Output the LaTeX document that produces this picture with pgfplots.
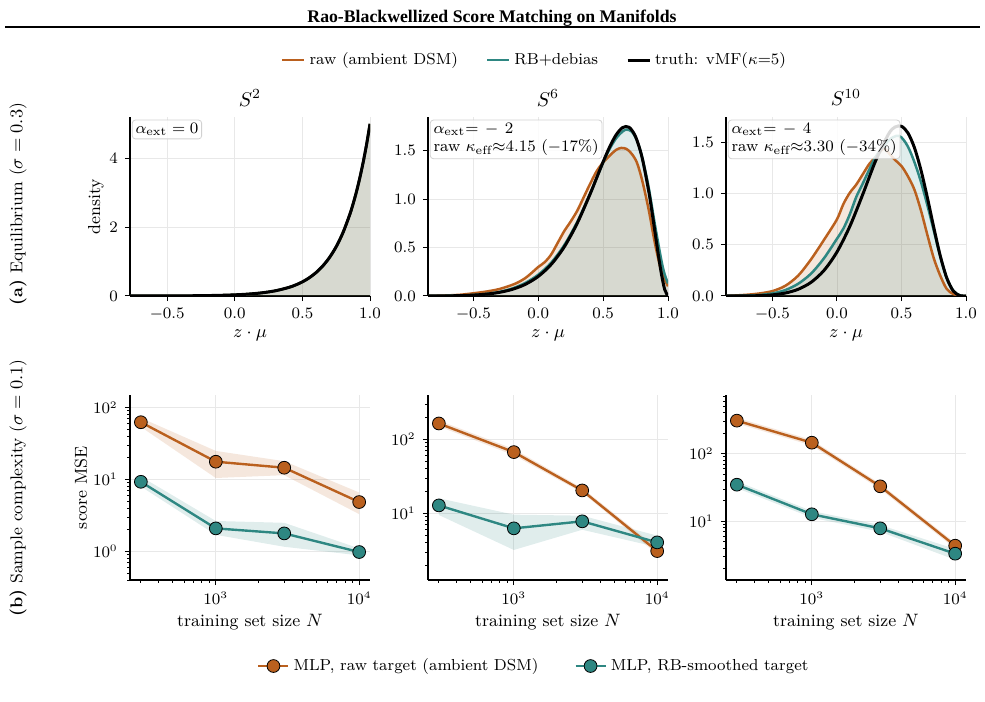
\documentclass[border=0pt]{standalone}
\usepackage{fontspec}
\usepackage{pgfplots}
\usepackage{pgfplotstable}
\pgfplotsset{compat=1.18}
\newfontfamily\titlefont{Liberation Serif}
\definecolor{rawc}{RGB}{186,96,30}
\definecolor{rbc}{RGB}{46,135,130}

\pgfplotstableread{
x y
-0.775 0.0007
-0.7 0.0010
-0.6 0.0017
-0.5 0.0028
-0.4 0.0046
-0.3 0.0075
-0.2 0.0124
-0.1 0.0204
0 0.0337
0.1 0.0555
0.2 0.0916
0.3 0.151
0.4 0.249
0.45 0.320
0.5 0.410
0.55 0.527
0.6 0.677
0.65 0.869
0.7 1.116
0.75 1.432
0.8 1.839
0.85 2.362
0.875 2.676
0.9 3.032
0.925 3.437
0.95 3.894
0.975 4.41
1.0 5.0
}\truthtwo

\pgfplotstableread{
x y
-0.85 0.0002
-0.7 0.0016
-0.6 0.0041
-0.5 0.0093
-0.4 0.0193
-0.3 0.0374
-0.2 0.0686
-0.1 0.1203
0 0.2024
0.1 0.327
0.2 0.507
0.3 0.751
0.4 1.055
0.45 1.221
0.5 1.387
0.55 1.540
0.6 1.665
0.65 1.741
0.7 1.744
0.75 1.647
0.8 1.432
0.85 1.093
0.875 0.883
0.9 0.658
0.925 0.430
0.95 0.222
0.975 0.065
1.0 0.0
}\truthsix

\pgfplotstableread{
x y
-0.85 0.0
-0.7 0.006
-0.6 0.013
-0.5 0.028
-0.4 0.046
-0.3 0.072
-0.2 0.115
-0.15 0.145
-0.1 0.185
-0.05 0.24
0 0.30
0.05 0.35
0.1 0.43
0.15 0.55
0.2 0.67
0.25 0.77
0.3 0.88
0.35 1.02
0.4 1.16
0.45 1.29
0.5 1.38
0.55 1.45
0.6 1.51
0.64 1.53
0.68 1.52
0.72 1.47
0.76 1.38
0.8 1.20
0.85 0.90
0.9 0.54
0.95 0.25
1.0 0.10
}\rawsix

\pgfplotstableread{
x y
-0.85 0.0
-0.6 0.005
-0.5 0.011
-0.4 0.022
-0.3 0.042
-0.2 0.078
-0.1 0.135
0 0.22
0.1 0.345
0.2 0.525
0.3 0.765
0.4 1.06
0.5 1.38
0.55 1.52
0.6 1.63
0.65 1.70
0.68 1.72
0.72 1.70
0.76 1.61
0.8 1.44
0.85 1.13
0.9 0.73
0.95 0.36
0.975 0.22
1.0 0.13
}\rbsix

\pgfplotstableread{
x y
-0.86 0.0000
-0.7 0.0009
-0.6 0.0036
-0.5 0.0112
-0.4 0.0290
-0.3 0.0659
-0.2 0.1345
-0.1 0.2508
0 0.4305
0.1 0.6818
0.2 0.9939
0.3 1.323
0.4 1.584
0.45 1.652
0.5 1.659
0.55 1.594
0.6 1.451
0.65 1.235
0.7 0.965
0.75 0.671
0.8 0.395
0.85 0.179
0.9 0.0505
0.95 0.0045
1.0 0.0
}\truthten

\pgfplotstableread{
x y
-0.86 0.0
-0.7 0.004
-0.6 0.010
-0.5 0.025
-0.4 0.058
-0.3 0.12
-0.2 0.22
-0.1 0.37
0 0.56
0.05 0.66
0.1 0.80
0.15 0.97
0.2 1.10
0.3 1.36
0.4 1.52
0.46 1.565
0.5 1.55
0.55 1.46
0.6 1.31
0.65 1.12
0.7 0.89
0.75 0.64
0.8 0.39
0.85 0.18
0.9 0.055
0.95 0.008
1.0 0.0
}\rbten

\pgfplotstableread{
x y
-0.86 0.0
-0.7 0.012
-0.6 0.025
-0.5 0.048
-0.4 0.10
-0.3 0.20
-0.2 0.36
-0.1 0.55
0 0.75
0.05 0.90
0.1 1.01
0.15 1.09
0.2 1.19
0.25 1.29
0.3 1.36
0.36 1.44
0.4 1.40
0.45 1.33
0.5 1.27
0.55 1.17
0.6 1.04
0.65 0.84
0.7 0.60
0.75 0.37
0.8 0.20
0.85 0.07
0.9 0.02
0.95 0.004
1.0 0.0
}\rawten

\tikzset{
  annot/.style={anchor=north west, draw=black!18, line width=0.4bp, rounded corners=1.5bp,
    fill=white, fill opacity=0.85, text opacity=1, font=\fontsize{8}{9}\selectfont,
    inner sep=1.6bp, align=left},
}
\pgfplotsset{
  basestyle/.style={
    scale only axis, width=120bp,
    axis lines=left,
    axis line style={-, line width=0.6bp, black},
    tick align=outside,
    tick style={line width=0.5bp, black},
    major tick length=2.6bp, minor tick length=1.5bp,
    grid=major,
    major grid style={line width=0.4bp, black!9},
    tick label style={font=\fontsize{7.7}{8}\selectfont},
    label style={font=\fontsize{8.7}{10}\selectfont},
    ylabel shift=-4bp, xlabel shift=-2bp,
    title style={font=\fontsize{10}{11}\selectfont, yshift=-4bp},
    legend style={draw=none, fill=none, font=\fontsize{8}{9}\selectfont},
    legend cell align=left,
  },
  densstyle/.style={basestyle, height=89.5bp, ymin=0, xmax=1.0, xtick={-0.5,0,0.5,1},
    xticklabel style={/pgf/number format/.cd, fixed, fixed zerofill, precision=1},
    xlabel={$z\cdot\mu$}},
  denstwostyle/.style={densstyle, ytick={0,0.5,1,1.5},
    yticklabel style={/pgf/number format/.cd, fixed, fixed zerofill, precision=1}},
  msestyle/.style={basestyle, height=92.5bp, xmin=252, xmax=11900,
    xtick={1000,10000},
    minor xtick={300,400,500,600,700,800,900,2000,3000,4000,5000,6000,7000,8000,9000},
    xlabel={training set size $N$}},
  rawfill/.style={draw=none, fill=rawc, fill opacity=0.15, forget plot, smooth},
  rbfill/.style={draw=none, fill=rbc, fill opacity=0.15, forget plot, smooth},
  rawline/.style={rawc, line width=1.25bp, smooth},
  rbline/.style={rbc, line width=1.25bp, smooth},
  truthline/.style={black, line width=1.5bp, smooth},
  rawm/.style={rawc, line width=1.2bp, mark=*, mark size=3.2bp, mark options={fill=rawc, draw=black, line width=0.4bp}},
  rbm/.style={rbc, line width=1.2bp, mark=*, mark size=3.2bp, mark options={fill=rbc, draw=black, line width=0.4bp}},
  rawband/.style={draw=none, fill=rawc, fill opacity=0.15, forget plot},
  rbband/.style={draw=none, fill=rbc, fill opacity=0.15, forget plot},
}

\begin{document}
\begin{tikzpicture}
\useasboundingbox (0,0) rectangle (492.5bp,351bp);

\node[font=\titlefont\bfseries\fontsize{8.9}{10}\selectfont] at (246bp,342bp) {Rao-Blackwellized Score Matching on Manifolds};
\draw[line width=1bp] (2.5bp,337.5bp) -- (490bp,337.5bp);

\node[rotate=90, font=\fontsize{8.6}{10}\selectfont] at (9bp,249bp) {\textbf{(a)} Equilibrium ($\sigma=0.3$)};
\node[rotate=90, font=\fontsize{8.6}{10}\selectfont] at (9bp,107bp) {\textbf{(b)} Sample complexity ($\sigma=0.1$)};

% ---------- top row ----------
\begin{axis}[densstyle, at={(65bp,203bp)}, anchor=south west, xmin=-0.775, ymax=5.2,
  ytick={0,2,4}, ylabel={density}, title={$S^2$}]
\addplot[rawfill] table {\truthtwo} \closedcycle;
\addplot[rbfill] table {\truthtwo} \closedcycle;
\addplot[rawline] table {\truthtwo};
\addplot[rbline] table {\truthtwo};
\addplot[truthline] table {\truthtwo};
\node[annot] at (rel axis cs:0.008,0.985) {$\alpha_{\mathrm{ext}}=0$};
\end{axis}

\begin{axis}[denstwostyle, at={(214bp,203bp)}, anchor=south west, xmin=-0.85, ymax=1.85,
  title={$S^6$},
  legend style={at={(0.448,1.318)}, anchor=center, legend columns=3,
    /tikz/every even column/.append style={column sep=12bp}},
  legend image code/.code={\draw[#1] (0bp,0bp) -- (11bp,0bp);}]
\addplot[rawfill] table {\rawsix} \closedcycle;
\addplot[rbfill] table {\rbsix} \closedcycle;
\addplot[rawline] table {\rawsix};
\addplot[rbline] table {\rbsix};
\addplot[truthline] table {\truthsix};
\legend{raw (ambient DSM), RB+debias, truth: vMF($\kappa$=5)}
\node[annot] at (rel axis cs:0.008,0.985) {$\alpha_{\mathrm{ext}}{=}\,-\,2$\\raw $\kappa_{\mathrm{eff}}{\approx}4.15$ ($-17\%$)};
\end{axis}

\begin{axis}[denstwostyle, at={(363bp,203bp)}, anchor=south west, xmin=-0.86, ymax=1.75,
  title={$S^{10}$}]
\addplot[rawfill] table {\rawten} \closedcycle;
\addplot[rbfill] table {\rbten} \closedcycle;
\addplot[rawline] table {\rawten};
\addplot[rbline] table {\rbten};
\addplot[truthline] table {\truthten};
\node[annot] at (rel axis cs:0.008,0.985) {$\alpha_{\mathrm{ext}}{=}\,-\,4$\\raw $\kappa_{\mathrm{eff}}{\approx}3.30$ ($-34\%$)};
\end{axis}

% ---------- bottom row ----------
\begin{loglogaxis}[msestyle, at={(65bp,61bp)}, anchor=south west, ymin=0.4, ymax=150,
  ytick={1,10,100},
  minor ytick={0.4,0.5,0.6,0.7,0.8,0.9,2,3,4,5,6,7,8,9,20,30,40,50,60,70,80,90},
  ylabel={score MSE}]
\addplot[rawband] coordinates {(300,72) (1000,25) (3000,18) (10000,6.6) (10000,3.3) (3000,11.5) (1000,10.5) (300,54)} -- cycle;
\addplot[rbband] coordinates {(300,11) (1000,2.65) (3000,2.5) (10000,1.1) (10000,0.88) (3000,1.16) (1000,1.7) (300,8)} -- cycle;
\addplot[rawm] coordinates {(300,62.7) (1000,17.7) (3000,14.6) (10000,4.86)};
\addplot[rbm] coordinates {(300,9.3) (1000,2.09) (3000,1.78) (10000,0.98)};
\end{loglogaxis}

\begin{loglogaxis}[msestyle, at={(214bp,61bp)}, anchor=south west, ymin=1.256, ymax=398,
  ytick={10,100},
  minor ytick={2,3,4,5,6,7,8,9,20,30,40,50,60,70,80,90,200,300},
  legend style={at={(0.445,-0.465)}, anchor=center, legend columns=2,
    /tikz/every even column/.append style={column sep=16bp}},
  legend image code/.code={\draw[mark repeat=2, mark phase=2, #1] plot coordinates {(0bp,0bp) (7.5bp,0bp) (15bp,0bp)};}]
\addplot[rawband] coordinates {(300,180) (1000,74) (3000,22) (10000,3.4) (10000,2.8) (3000,19) (1000,61) (300,150)} -- cycle;
\addplot[rbband] coordinates {(300,16) (1000,9.6) (3000,9.3) (10000,5.0) (10000,3.5) (3000,6.0) (1000,3.2) (300,9.5)} -- cycle;
\addplot[rawm] coordinates {(300,164) (1000,67.3) (3000,20.4) (10000,3.09)};
\addplot[rbm] coordinates {(300,12.8) (1000,6.27) (3000,7.8) (10000,4.05)};
\legend{{MLP, raw target (ambient DSM)}, {MLP, RB-smoothed target}}
\end{loglogaxis}

\begin{loglogaxis}[msestyle, at={(363bp,61bp)}, anchor=south west, ymin=1.355, ymax=738,
  ytick={10,100},
  minor ytick={2,3,4,5,6,7,8,9,20,30,40,50,60,70,80,90,200,300,400,500,600,700}]
\addplot[rawband] coordinates {(300,340) (1000,160) (3000,36) (10000,4.8) (10000,3.95) (3000,29.8) (1000,132) (300,280)} -- cycle;
\addplot[rbband] coordinates {(300,39) (1000,14.2) (3000,8.8) (10000,3.9) (10000,2.7) (3000,7.0) (1000,11.3) (300,31)} -- cycle;
\addplot[rawm] coordinates {(300,308) (1000,145.5) (3000,32.9) (10000,4.36)};
\addplot[rbm] coordinates {(300,34.8) (1000,12.7) (3000,7.87) (10000,3.32)};
\end{loglogaxis}
\end{tikzpicture}
\end{document}
